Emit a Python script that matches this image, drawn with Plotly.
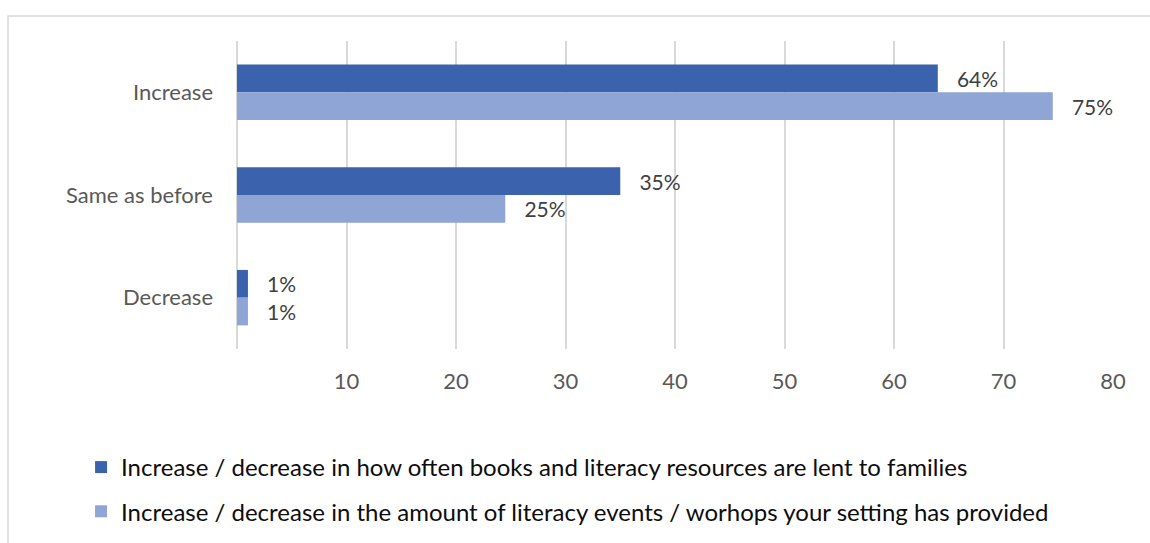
import plotly.graph_objects as go

categories = ['Increase', 'Same as before', 'Decrease']
lent_values = [64, 35, 1]
lent_labels = ['64%', '35%', '1%']
events_values = [74.5, 24.5, 1]
events_labels = ['75%', '25%', '1%']
x_ticks = [10, 20, 30, 40, 50, 60, 70, 80]

name_lent = 'Increase / decrease in how often books and literacy resources are lent to families'
name_events = 'Increase / decrease in the amount of literacy events / worhops your setting has provided'

FONT = 'Lato'

fig = go.Figure()
fig.add_trace(go.Bar(
    y=categories,
    x=lent_values,
    orientation='h',
    name=name_lent,
    legendgroup='a',
    marker=dict(color='#3B62AD', line=dict(width=0)),
    text=lent_labels,
    texttemplate='   %{text}',
    textposition='outside',
    textfont=dict(family=FONT, size=21, color='#404040'),
    cliponaxis=False
))
fig.add_trace(go.Bar(
    y=categories,
    x=events_values,
    orientation='h',
    name=name_events,
    legendgroup='b',
    marker=dict(color='#8FA5D6', line=dict(width=0)),
    text=events_labels,
    texttemplate='   %{text}',
    textposition='outside',
    textfont=dict(family=FONT, size=21, color='#404040'),
    cliponaxis=False
))

# outer chart border
fig.add_shape(type='rect', xref='paper', yref='paper',
              x0=-0.2614, x1=1.0537, y0=-0.685, y1=1.0812,
              line=dict(color='#D9D9D9', width=1.5), layer='below')

fig.update_layout(
    width=1150,
    height=543,
    margin=dict(l=237, r=37, t=41, b=194, autoexpand=False),
    paper_bgcolor='white',
    plot_bgcolor='white',
    barmode='group',
    bargap=0.46,
    bargroupgap=0,
    font=dict(family=FONT, size=22, color='#595959'),
    xaxis=dict(
        range=[0, 80],
        tickvals=x_ticks,
        showgrid=True,
        gridcolor='#D9D9D9',
        gridwidth=1.5,
        zeroline=True,
        zerolinecolor='#D9D9D9',
        zerolinewidth=1.5,
        showline=False,
        ticklabelstandoff=17,
        tickfont=dict(family=FONT, size=22, color='#595959'),
        fixedrange=True
    ),
    yaxis=dict(
        autorange='reversed',
        showgrid=False,
        showline=False,
        ticklabelstandoff=23,
        tickfont=dict(family=FONT, size=22, color='#595959'),
        fixedrange=True
    ),
    showlegend=True,
    legend=dict(
        orientation='v',
        x=-0.178,
        xanchor='left',
        yref='container',
        y=0.1805,
        yanchor='top',
        tracegroupgap=10,
        font=dict(family=FONT, size=24, color='#0D0D0D'),
        bgcolor='rgba(0,0,0,0)'
    )
)

fig.write_html('out.html', config={'displayModeBar': False},
               post_script="document.body.style.margin='0';")
